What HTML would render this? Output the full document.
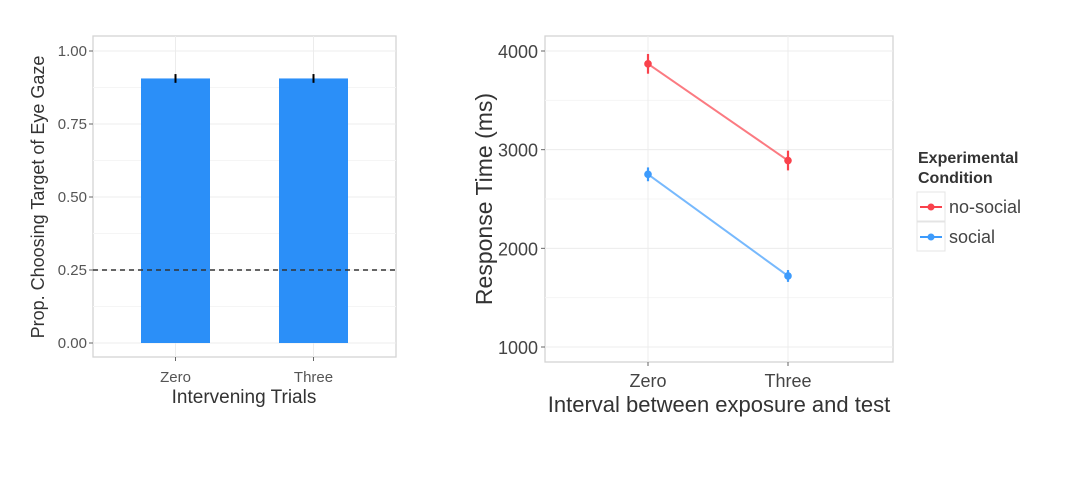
<!DOCTYPE html>
<html><head><meta charset="utf-8"><style>
body{margin:0;background:#fff;}
svg text{font-family:"Liberation Sans",sans-serif;}
</style></head><body>
<svg width="1072" height="482" xmlns="http://www.w3.org/2000/svg">
<g id="left"></g>
<g id="right"></g>
</svg>
<script>
const barCats = ["Zero","Three"];
const barVals = [0.906, 0.906];
const barErr = [0.015, 0.015];
const barTicks = [0, 0.25, 0.5, 0.75, 1.0];
const barTickLabels = ["0.00","0.25","0.50","0.75","1.00"];
const chance = 0.25;

const lineCats = ["Zero","Three"];
const noSocial = [3870, 2890];
const noSocialErr = [100, 100];
const social = [2750, 1720];
const socialErr = [70, 60];
const lineTicks = [1000, 2000, 3000, 4000];

const NS="http://www.w3.org/2000/svg";
function mk(p,tag,attrs,txt){const e=document.createElementNS(NS,tag);for(const k in attrs)e.setAttribute(k,attrs[k]);if(txt!==undefined)e.textContent=txt;p.appendChild(e);return e;}

// Left chart
const L=document.getElementById('left');
const lx0=93,lx1=396,ly0=36,ly1=357;
const ly=v=>343-v*292;
const lx=i=>175.5+i*138;
mk(L,'rect',{x:lx0,y:ly0,width:lx1-lx0,height:ly1-ly0,fill:'#fff',stroke:'#d4d4d4','stroke-width':1.3});
[0.125,0.375,0.625,0.875].forEach(v=>mk(L,'line',{x1:lx0,x2:lx1,y1:ly(v),y2:ly(v),stroke:'#f5f5f5'}));
barTicks.forEach((v,i)=>{
  mk(L,'line',{x1:lx0,x2:lx1,y1:ly(v),y2:ly(v),stroke:'#ececec'});
  mk(L,'line',{x1:lx0-4,x2:lx0,y1:ly(v),y2:ly(v),stroke:'#666'});
  const t=mk(L,'text',{x:lx0-6,y:ly(v)+5,'text-anchor':'end','font-size':15,fill:'#555'},barTickLabels[i]);
  
  
});
barCats.forEach((c,i)=>{
  mk(L,'line',{x1:lx(i),x2:lx(i),y1:ly0,y2:ly1,stroke:'#ececec'});
  const r=mk(L,'rect',{x:lx(i)-34.5,y:ly(barVals[i]),width:69,height:ly(0)-ly(barVals[i]),fill:'#2b8ff8'});
  
  
  mk(L,'line',{x1:lx(i),x2:lx(i),y1:ly(barVals[i]+barErr[i]),y2:ly(barVals[i]-barErr[i]),stroke:'#000','stroke-width':2});
  mk(L,'line',{x1:lx(i),x2:lx(i),y1:ly1,y2:ly1+4,stroke:'#666'});
  const t=mk(L,'text',{x:lx(i),y:ly1+25,'text-anchor':'middle','font-size':15,fill:'#555'},c);
  
  
});
const dl=mk(L,'line',{x1:lx0,x2:lx1,y1:ly(chance),y2:ly(chance),stroke:'#333','stroke-width':1.5,'stroke-dasharray':'5,4'});


let t1=mk(L,'text',{x:244,y:403,'text-anchor':'middle','font-size':19,fill:'#333'},'Intervening Trials');

let t2=mk(L,'text',{x:0,y:0,'text-anchor':'middle','font-size':18,fill:'#333',transform:'translate(44,197) rotate(-90)'},'Prop. Choosing Target of Eye Gaze');


// Right chart
const R=document.getElementById('right');
const rx0=545,rx1=893,ry0=36,ry1=362;
const ry=v=>347-(v-1000)*296/3000;
const rx=i=>648+i*140;
mk(R,'rect',{x:rx0,y:ry0,width:rx1-rx0,height:ry1-ry0,fill:'#fff',stroke:'#d4d4d4','stroke-width':1.3});
[1500,2500,3500].forEach(v=>mk(R,'line',{x1:rx0,x2:rx1,y1:ry(v),y2:ry(v),stroke:'#f5f5f5'}));
lineTicks.forEach(v=>{
  mk(R,'line',{x1:rx0,x2:rx1,y1:ry(v),y2:ry(v),stroke:'#ececec'});
  mk(R,'line',{x1:rx0-4,x2:rx0,y1:ry(v),y2:ry(v),stroke:'#666'});
  const t=mk(R,'text',{x:rx0-7,y:ry(v)+7,'text-anchor':'end','font-size':18,fill:'#444'},String(v));
  
  
});
lineCats.forEach((c,i)=>{
  mk(R,'line',{x1:rx(i),x2:rx(i),y1:ry0,y2:ry1,stroke:'#ececec'});
  mk(R,'line',{x1:rx(i),x2:rx(i),y1:ry1,y2:ry1+4,stroke:'#666'});
  const t=mk(R,'text',{x:rx(i),y:ry1+25,'text-anchor':'middle','font-size':18,fill:'#444'},c);
  
  
});
function series(vals,errs,col,name){
  const g=mk(R,'g',{});
  
  
  mk(g,'polyline',{points:vals.map((v,i)=>rx(i)+','+ry(v)).join(' '),fill:'none',stroke:col,'stroke-width':2,'stroke-opacity':0.7});
  vals.forEach((v,i)=>{
    mk(g,'line',{x1:rx(i),x2:rx(i),y1:ry(v+errs[i]),y2:ry(v-errs[i]),stroke:col,'stroke-width':2.2});
    const p=mk(g,'circle',{cx:rx(i),cy:ry(v),r:3.8,fill:col});
    
    
  });
}
series(noSocial,noSocialErr,'#f9424c','no-social');
series(social,socialErr,'#3d9bfc','social');
let t3=mk(R,'text',{x:719,y:412,'text-anchor':'middle','font-size':22,fill:'#333'},'Interval between exposure and test');

let t4=mk(R,'text',{x:0,y:0,'text-anchor':'middle','font-size':23,fill:'#333',transform:'translate(492,199) rotate(-90)'},'Response Time (ms)');


// Legend
const lg=mk(R,'g',{});


mk(lg,'text',{x:918,y:163,'font-size':16,'font-weight':'bold',fill:'#333'},'Experimental');
mk(lg,'text',{x:918,y:183,'font-size':16,'font-weight':'bold',fill:'#333'},'Condition');
[['no-social','#f9424c',207],['social','#3d9bfc',237]].forEach(([n,c,y])=>{
  const e=mk(lg,'g',{});
  
  
  mk(e,'rect',{x:917,y:y-15,width:28,height:29,fill:'#fff',stroke:'#e4e4e4'});
  mk(e,'line',{x1:920,x2:942,y1:y,y2:y,stroke:c,'stroke-width':2});
  mk(e,'circle',{cx:931,cy:y,r:3.5,fill:c});
  mk(e,'text',{x:949,y:y+6,'font-size':18,fill:'#444'},n);
});
</script>
</body></html>
